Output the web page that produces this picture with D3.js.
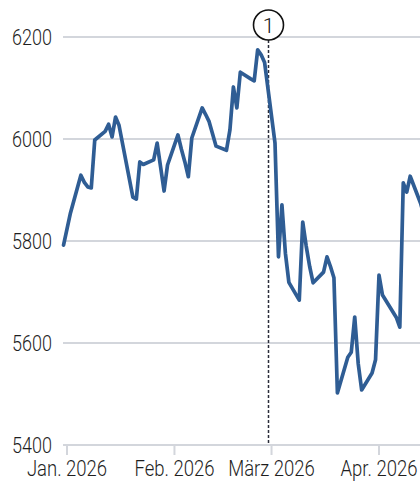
<!DOCTYPE html>
<html>
  <head>
    <meta charset="utf-8">
    <script src="https://d3js.org/d3.v7.min.js"></script>
    <style>
      body { margin: 0; background: #fff; }
      svg text {
        font-family: Roboto, "Noto Sans", sans-serif;
        font-weight: 300;
        fill: #1e1e1e;
      }
    </style>
  </head>
<body>
<script>
  // trading days and index level
  var dates = ["2025-12-31","2026-01-02","2026-01-05","2026-01-06","2026-01-07","2026-01-08","2026-01-09",
    "2026-01-12","2026-01-13","2026-01-14","2026-01-15","2026-01-16","2026-01-20","2026-01-21","2026-01-22",
    "2026-01-23","2026-01-26","2026-01-27","2026-01-28","2026-01-29","2026-01-30","2026-02-02","2026-02-03",
    "2026-02-04","2026-02-05","2026-02-06","2026-02-09","2026-02-10","2026-02-11","2026-02-12","2026-02-13",
    "2026-02-16","2026-02-17","2026-02-18","2026-02-19","2026-02-20","2026-02-23","2026-02-24","2026-02-25",
    "2026-02-26","2026-02-27","2026-03-02","2026-03-03","2026-03-04","2026-03-05","2026-03-06","2026-03-09",
    "2026-03-10","2026-03-11","2026-03-12","2026-03-13","2026-03-16","2026-03-17","2026-03-18","2026-03-19",
    "2026-03-20","2026-03-23","2026-03-24","2026-03-25","2026-03-26","2026-03-27","2026-03-30","2026-03-31",
    "2026-04-01","2026-04-02","2026-04-06","2026-04-07","2026-04-08","2026-04-09","2026-04-10","2026-04-13",
    "2026-04-14"];
  var values = [5792,5855,5929,5915,5906,5904,5998,
    6015,6029,6004,6043,6027,5886,5882,5955,
    5950,5959,5992,5945,5898,5949,6008,5980,
    5955,5926,6002,6061,6048,6034,6010,5986,
    5978,6018,6102,6061,6131,6118,6114,6175,
    6165,6150,5992,5769,5871,5776,5719,5684,
    5837,5790,5750,5718,5739,5769,5750,5728,
    5502,5572,5582,5651,5560,5508,5541,5567,
    5733,5694,5650,5631,5914,5896,5927,5874,
    5850];

  var yTicks = [5400, 5600, 5800, 6000, 6200];
  var xTicks = ["2026-01-01", "2026-02-01", "2026-03-01", "2026-04-01"];
  var xTickLabels = ["Jan. 2026", "Feb. 2026", "März 2026", "Apr. 2026"];
  var markerDate = "2026-02-28";
  var markerLabel = "1";

  var width = 420, height = 481;
  var parse = d3.utcParse("%Y-%m-%d");

  var x = d3.scaleUtc()
      .domain([parse("2026-01-01"), parse("2026-04-01")])
      .range([67, 379]);
  var y = d3.scaleLinear()
      .domain([5400, 6200])
      .range([445, 37]);

  var svg = d3.select("body").append("svg")
      .attr("width", width)
      .attr("height", height);

  // squeeze text horizontally for the condensed look
  function condense(k) {
    return function(sel) {
      sel.each(function() {
        var w = this.getComputedTextLength();
        d3.select(this)
          .attr("textLength", w * k)
          .attr("lengthAdjust", "spacingAndGlyphs");
      });
    };
  }

  // horizontal grid + y labels
  var grid = svg.append("g");
  grid.selectAll("line")
    .data(yTicks)
    .enter().append("line")
      .attr("x1", 63).attr("x2", width)
      .attr("y1", function(d) { return y(d); })
      .attr("y2", function(d) { return y(d); })
      .attr("stroke", "#d3d6dc")
      .attr("stroke-width", 2);
  grid.selectAll("text")
    .data(yTicks)
    .enter().append("text")
      .attr("x", 52)
      .attr("y", function(d) { return y(d); })
      .attr("dy", "0.36em")
      .attr("text-anchor", "end")
      .style("font-size", "22.5px")
      .text(function(d) { return d; })
      .call(condense(0.8));

  // x ticks
  var xt = svg.append("g");
  xt.selectAll("line")
    .data(xTicks)
    .enter().append("line")
      .attr("x1", function(d) { return x(parse(d)); })
      .attr("x2", function(d) { return x(parse(d)); })
      .attr("y1", 446).attr("y2", 455)
      .attr("stroke", "#d3d6dc")
      .attr("stroke-width", 2);
  xt.selectAll("text")
    .data(xTicks)
    .enter().append("text")
      .attr("x", function(d) { return x(parse(d)); })
      .attr("y", 475.5)
      .attr("text-anchor", "middle")
      .style("font-size", "21.5px")
      .text(function(d, i) { return xTickLabels[i]; })
      .call(condense(0.86));

  // marker line
  var mx = Math.round(x(parse(markerDate))) + 0.5;
  svg.append("line")
    .attr("x1", mx).attr("x2", mx)
    .attr("y1", 40).attr("y2", 445)
    .attr("stroke", "#2b2d3a")
    .attr("stroke-width", 1.5)
    .attr("stroke-dasharray", "3,2");

  // the series
  var data = dates.map(function(d, i) { return { date: parse(d), value: values[i] }; });
  var line = d3.line()
      .x(function(d) { return x(d.date); })
      .y(function(d) { return y(d.value); });
  svg.append("path")
    .datum(data)
    .attr("fill", "none")
    .attr("stroke", "#2f5d94")
    .attr("stroke-width", 3.7)
    .attr("stroke-linejoin", "round")
    .attr("stroke-linecap", "round")
    .attr("d", line);

  // marker circle
  svg.append("circle")
    .attr("cx", mx).attr("cy", 25).attr("r", 15)
    .attr("fill", "#fff")
    .attr("stroke", "#111")
    .attr("stroke-width", 1.6);
  svg.append("text")
    .attr("x", mx).attr("y", 25)
    .attr("dy", "0.36em")
    .attr("text-anchor", "middle")
    .style("font-size", "21px")
    .style("fill", "#111")
    .text(markerLabel);
</script>
</body>
</html>
